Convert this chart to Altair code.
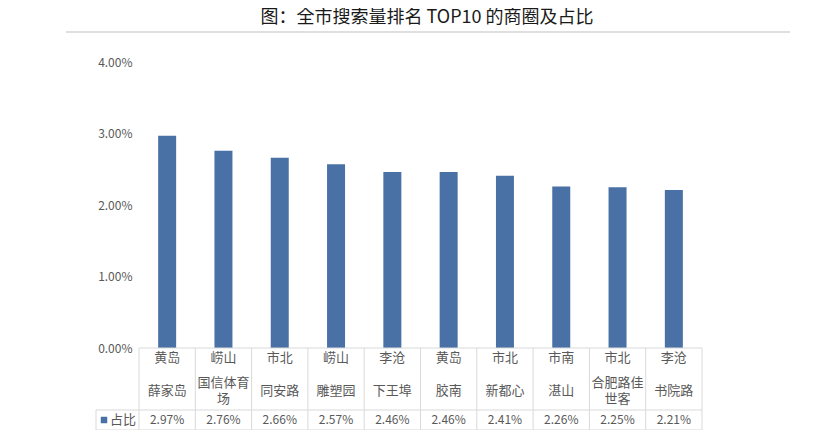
import altair as alt
import pandas as pd

districts = ["黄岛", "崂山", "市北", "崂山", "李沧", "黄岛", "市北", "市南", "市北", "李沧"]
circles = ["薛家岛", "国信体育\n场", "同安路", "雕塑园", "下王埠", "胶南", "新都心", "湛山", "合肥路佳\n世客", "书院路"]
shares = [0.0297, 0.0276, 0.0266, 0.0257, 0.0246, 0.0246, 0.0241, 0.0226, 0.0225, 0.0221]
series_name = "占比"
title_text = "图：全市搜索量排名 TOP10 的商圈及占比"

keys = [f"{i:02d}" for i in range(len(shares))]
df = pd.DataFrame({"key": keys, "district": districts, "circle": circles, "share": shares})
one = pd.DataFrame({"dummy": [0]})

W, H = 563, 286
GRID = "#d9d9d9"
TXT = "#595959"
BLUE = "#4a71a5"
FONT = "Noto Sans CJK SC"

xscale = alt.Scale(paddingInner=0, paddingOuter=0)
xenc = alt.X("key:N", axis=None, scale=xscale)

bars = alt.Chart(df).mark_bar(size=18, color=BLUE).encode(
    x=xenc,
    y=alt.Y("share:Q", scale=alt.Scale(domain=[0, 0.04]),
            axis=alt.Axis(format=".2%", values=[0, 0.01, 0.02, 0.03, 0.04], domain=False, ticks=False,
                          grid=False, labelPadding=7, labelColor=TXT, labelFontSize=12,
                          labelFont=FONT, title=None)),
)

base = alt.Chart(df)
single = alt.Chart(one)

vlines = base.mark_rule(color=GRID, strokeWidth=1).encode(
    x=alt.X("key:N", axis=None, bandPosition=0, scale=xscale),
    y=alt.value(H), y2=alt.value(H + 82),
)
right_line = single.mark_rule(color=GRID).encode(x=alt.value(W), y=alt.value(H), y2=alt.value(H + 82))
legend_vline = single.mark_rule(color=GRID).encode(x=alt.value(-43), y=alt.value(H + 62), y2=alt.value(H + 82))
top_line = single.mark_rule(color=GRID).encode(x=alt.value(0), x2=alt.value(W), y=alt.value(H))
mid_line = single.mark_rule(color=GRID).encode(x=alt.value(-43), x2=alt.value(W), y=alt.value(H + 62))
bot_line = single.mark_rule(color=GRID).encode(x=alt.value(-43), x2=alt.value(W), y=alt.value(H + 82))

dist_text = base.mark_text(font=FONT, fontSize=13, color=TXT, baseline="middle").encode(
    x=xenc, y=alt.value(H + 10), text="district:N")
circ_single = base.transform_filter("indexof(datum.circle, '\\n') < 0").mark_text(
    font=FONT, fontSize=13, color=TXT, baseline="middle").encode(
    x=xenc, y=alt.value(H + 43), text="circle:N")
circ_multi = base.transform_filter("indexof(datum.circle, '\\n') >= 0").mark_text(
    font=FONT, fontSize=13, color=TXT, baseline="middle", lineBreak="\n", lineHeight=16).encode(
    x=xenc, y=alt.value(H + 35), text="circle:N")
val_text = base.mark_text(font=FONT, fontSize=12, color=TXT, baseline="middle").encode(
    x=xenc, y=alt.value(H + 72), text=alt.Text("share:Q", format=".2%"))

legend_sq = single.mark_square(size=42, color=BLUE, opacity=1).encode(
    x=alt.value(-35), y=alt.value(H + 72))
legend_txt = single.mark_text(font=FONT, fontSize=13, color=TXT, baseline="middle", align="left").encode(
    x=alt.value(-29), y=alt.value(H + 72), text=alt.value(series_name))

title_rule = single.mark_rule(color="#bfbfbf", strokeWidth=1.2).encode(
    x=alt.value(-73), x2=alt.value(651), y=alt.value(-30))
title_mark = single.mark_text(font=FONT, fontSize=18, fontWeight="normal", color="#1a1a1a",
                              baseline="middle").encode(
    x=alt.value(288), y=alt.value(-44), text=alt.value(title_text))

chart = alt.layer(
    bars, vlines, right_line, legend_vline, top_line, mid_line, bot_line,
    dist_text, circ_single, circ_multi, val_text, legend_sq, legend_txt, title_rule, title_mark,
).properties(
    width=W, height=H,
    background="white",
    autosize=alt.AutoSizeParams(type="none"),
    padding={"left": 131, "top": 54, "right": 122, "bottom": 82},
).configure_view(strokeWidth=0, stroke="transparent")

chart.save("out.html", embed_options={"renderer": "svg", "actions": False})
